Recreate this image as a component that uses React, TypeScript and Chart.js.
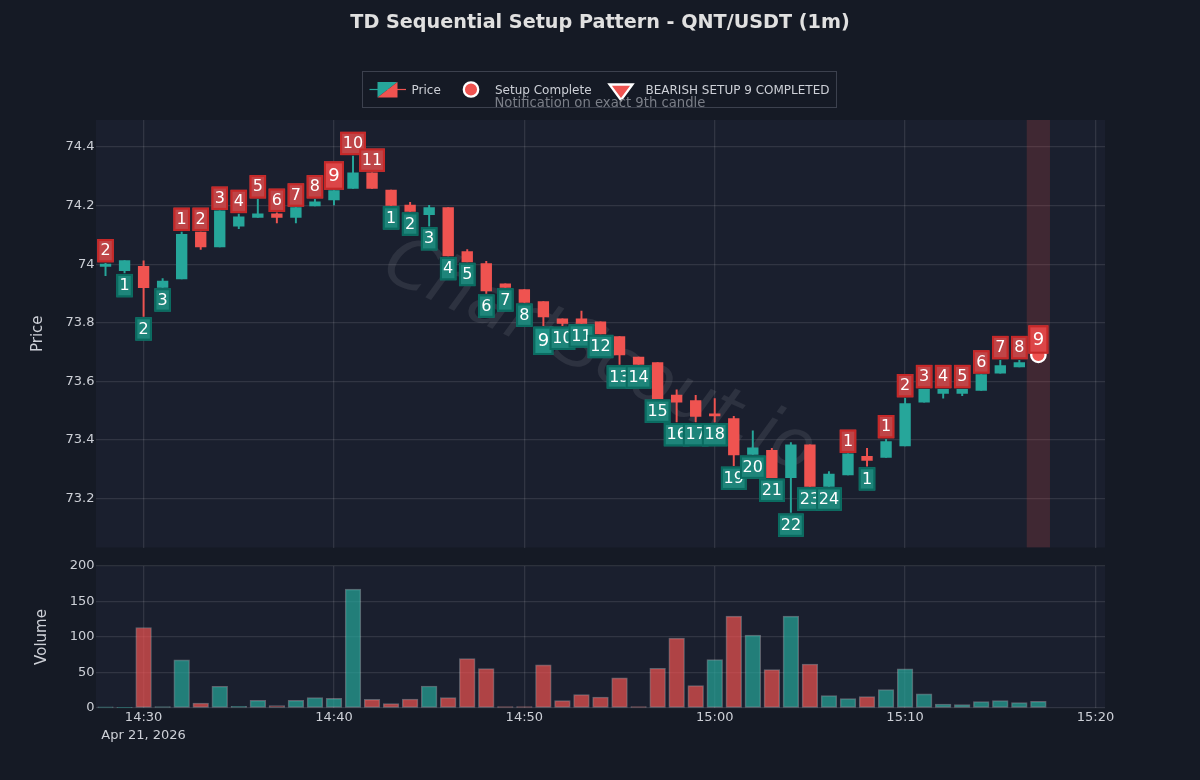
import { useEffect, useRef } from "react";
import { Chart, registerables } from "chart.js";
import type { Plugin } from "chart.js";

Chart.register(...registerables);

const FONT = '"DejaVu Sans", sans-serif';
const GREEN = "#26a69a";
const RED = "#ef5350";
const PAGE_BG = "#151a25";
const PANE_BG = "#1a1f2e";
const GRID = "rgba(255,255,255,0.1)";
const GRID_WIDTH = 1.3;
const TEXT = "#cdd0d7";

// minute of the day of the first candle (14:28), one candle per minute
const firstMinute = 868;

const opens = [
  73.992, 73.978, 73.993, 73.921, 73.95, 74.11, 74.059, 74.13, 74.16, 74.172,
  74.16, 74.199, 74.219, 74.259, 74.312, 74.253, 74.202, 74.169, 74.193, 74.043,
  74.002, 73.933, 73.913, 73.872, 73.813, 73.813, 73.803, 73.753, 73.683, 73.664,
  73.553, 73.534, 73.482, 73.473, 73.35, 73.364, 73.271, 73.383, 73.241, 73.28,
  73.344, 73.34, 73.379, 73.529, 73.559, 73.559, 73.569, 73.628, 73.649, 73.68,
];
const closes = [
  74.0, 74.012, 73.92, 73.942, 74.102, 74.059, 74.182, 74.162, 74.172, 74.16,
  74.193, 74.213, 74.251, 74.312, 74.259, 74.201, 74.18, 74.193, 74.028, 74.008,
  73.909, 73.921, 73.869, 73.82, 73.798, 73.798, 73.762, 73.69, 73.658, 73.541,
  73.529, 73.48, 73.482, 73.349, 73.373, 73.271, 73.383, 73.241, 73.283, 73.352,
  73.33, 73.394, 73.524, 73.573, 73.573, 73.573, 73.623, 73.654, 73.664, 73.688,
];
const highs = [
  74.003, 74.012, 74.011, 73.951, 74.11, 74.11, 74.182, 74.171, 74.221, 74.175,
  74.193, 74.221, 74.251, 74.369, 74.312, 74.253, 74.211, 74.201, 74.193, 74.05,
  74.01, 73.933, 73.913, 73.872, 73.813, 73.84, 73.803, 73.753, 73.683, 73.664,
  73.571, 73.552, 73.541, 73.48, 73.431, 73.371, 73.391, 73.383, 73.292, 73.352,
  73.371, 73.402, 73.542, 73.573, 73.573, 73.573, 73.623, 73.672, 73.672, 73.691,
];
const lows = [
  73.961, 73.97, 73.822, 73.921, 73.95, 74.05, 74.059, 74.121, 74.16, 74.141,
  74.141, 74.199, 74.202, 74.259, 74.259, 74.201, 74.18, 74.13, 74.028, 74.008,
  73.9, 73.921, 73.869, 73.79, 73.79, 73.798, 73.762, 73.658, 73.658, 73.541,
  73.461, 73.461, 73.461, 73.312, 73.35, 73.271, 73.152, 73.241, 73.241, 73.28,
  73.31, 73.34, 73.379, 73.529, 73.542, 73.551, 73.569, 73.628, 73.649, 73.678,
];
const volumes = [
  1.5, 1, 113.4, 2, 67.8, 7, 30.6, 2.4, 10.8, 3.3,
  10.8, 14.6, 13.6, 167.5, 12.2, 6.1, 12.7, 31, 14.6, 69.6,
  55.5, 1.9, 1.9, 60.7, 10.4, 18.8, 15.5, 42.4, 1.9, 56,
  98.4, 31.5, 68.2, 129.4, 102.6, 54, 129.4, 62, 17.4, 13.2,
  16, 25.9, 55, 19.8, 5.6, 4.7, 8.9, 10.4, 7.5, 9.4,
];
const tdCounts = [
  2, 1, 2, 3, 1, 2, 3, 4, 5, 6,
  7, 8, 9, 10, 11, 1, 2, 3, 4, 5,
  6, 7, 8, 9, 10, 11, 12, 13, 14, 15,
  16, 17, 18, 19, 20, 21, 22, 23, 24, 1,
  1, 1, 2, 3, 4, 5, 6, 7, 8, 9,
];
// true: count sits above the high (sell setup), false: below the low
const tdAbove = [
  true, false, false, false, true, true, true, true, true, true,
  true, true, true, true, true, false, false, false, false, false,
  false, false, false, false, false, false, false, false, false, false,
  false, false, false, false, false, false, false, false, false, true,
  false, true, true, true, true, true, true, true, true, true,
];
const setupIndex = 49;
const setupPrice = 73.69;

const minutes = opens.map((_, i) => firstMinute + i);

const xMin = 867.5;
const xMax = 920.5;
const priceMin = 73.0325;
const priceMax = 74.4923;
const TITLE = "TD Sequential Setup Pattern - QNT/USDT (1m)";

function clock(v: number) {
  const h = Math.floor(v / 60);
  const m = v % 60;
  return `${h}:${m < 10 ? "0" : ""}${m}`;
}

const paneBackground: Plugin = {
  id: "paneBackground",
  beforeDraw(chart) {
    const { ctx, chartArea: a } = chart;
    ctx.save();
    ctx.fillStyle = PANE_BG;
    ctx.fillRect(a.left, a.top, a.right - a.left, a.bottom - a.top);
    ctx.restore();
  },
};

const watermark: Plugin = {
  id: "watermark",
  beforeDatasetsDraw(chart) {
    const { ctx } = chart;
    ctx.save();
    ctx.translate(599, 358.5);
    ctx.rotate((25 * Math.PI) / 180);
    ctx.font = `italic 69px ${FONT}`;
    ctx.fillStyle = "rgba(255,255,255,0.085)";
    ctx.textAlign = "center";
    ctx.textBaseline = "middle";
    ctx.fillText("ChartScout.io", 0, 0);
    ctx.restore();
  },
};

const tdLabels: Plugin = {
  id: "tdLabels",
  afterDatasetsDraw(chart) {
    const { ctx, scales } = chart;
    ctx.save();
    ctx.textAlign = "center";
    ctx.textBaseline = "middle";
    tdCounts.forEach((count, i) => {
      const big = count === 9;
      const w = big ? 20 : count > 9 ? 25.7 : 16.5;
      const h = big ? 28.3 : 23.3;
      const x = scales.x.getPixelForValue(minutes[i]);
      const top = tdAbove[i]
        ? scales.y.getPixelForValue(highs[i]) - 1 - h
        : scales.y.getPixelForValue(lows[i]) + 1;
      ctx.fillStyle = tdAbove[i] ? (big ? "#dc4648" : "#bf4548") : big ? "#1f9084" : "#1e857a";
      ctx.strokeStyle = tdAbove[i] ? "#c62828" : "#0a6b60";
      ctx.lineWidth = 2;
      ctx.fillRect(x - w / 2, top, w, h);
      ctx.strokeRect(x - w / 2 + 1, top + 1, w - 2, h - 2);
      ctx.fillStyle = "#ffffff";
      ctx.font = `${big ? 18 : 16}px ${FONT}`;
      ctx.fillText(String(count), x, top + h / 2 + 0.5);
    });
    ctx.restore();
  },
};

const headerBox: Plugin = {
  id: "headerBox",
  afterDraw(chart) {
    const { ctx } = chart;
    ctx.save();
    ctx.font = `bold 19.2px ${FONT}`;
    ctx.fillStyle = "#e0e0e0";
    ctx.textAlign = "center";
    ctx.textBaseline = "middle";
    ctx.fillText(TITLE, 600, 23);
    ctx.textAlign = "left";

    ctx.strokeStyle = "#3c414e";
    ctx.lineWidth = 1;
    ctx.strokeRect(362.5, 71.5, 474, 36);

    // candle swatch, split along the diagonal
    ctx.lineWidth = 1.2;
    ctx.strokeStyle = GREEN;
    ctx.beginPath();
    ctx.moveTo(369.5, 89.5);
    ctx.lineTo(388, 89.5);
    ctx.stroke();
    ctx.strokeStyle = RED;
    ctx.beginPath();
    ctx.moveTo(388, 89.5);
    ctx.lineTo(406, 89.5);
    ctx.stroke();
    ctx.fillStyle = GREEN;
    ctx.beginPath();
    ctx.moveTo(377.5, 82);
    ctx.lineTo(397.5, 82);
    ctx.lineTo(377.5, 97.5);
    ctx.closePath();
    ctx.fill();
    ctx.fillStyle = RED;
    ctx.beginPath();
    ctx.moveTo(397.5, 82);
    ctx.lineTo(397.5, 97.5);
    ctx.lineTo(377.5, 97.5);
    ctx.closePath();
    ctx.fill();

    // setup complete marker
    ctx.fillStyle = RED;
    ctx.strokeStyle = "#ffffff";
    ctx.lineWidth = 2.3;
    ctx.beginPath();
    ctx.arc(471, 89.5, 7.2, 0, Math.PI * 2);
    ctx.fill();
    ctx.stroke();

    // triangle marker
    ctx.beginPath();
    ctx.moveTo(609.5, 84.5);
    ctx.lineTo(632.5, 84.5);
    ctx.lineTo(621, 100);
    ctx.closePath();
    ctx.fill();
    ctx.stroke();

    ctx.font = `12px ${FONT}`;
    ctx.fillStyle = TEXT;
    ctx.textBaseline = "middle";
    ctx.fillText("Price", 411.5, 91);
    ctx.fillText("Setup Complete", 495, 91);
    ctx.fillText("BEARISH SETUP 9 COMPLETED", 645.5, 91);
    ctx.font = `13.2px ${FONT}`;
    ctx.fillStyle = "#7b7f88";
    ctx.fillText("Notification on exact 9th candle", 494.5, 104);
    ctx.restore();
  },
};

export default function App() {
  const priceRef = useRef<HTMLCanvasElement | null>(null);
  const volumeRef = useRef<HTMLCanvasElement | null>(null);

  useEffect(() => {
    if (!priceRef.current || !volumeRef.current) return;

    const candleColors = minutes.map((_, i) => (closes[i] > opens[i] ? GREEN : RED));
    const volumeColors = minutes.map((_, i) =>
      closes[i] >= opens[i] ? "rgba(38,166,154,0.7)" : "rgba(239,83,80,0.7)"
    );

    const priceChart = new Chart(priceRef.current, {
      type: "bar",
      data: {
        datasets: [
          {
            type: "line",
            label: "Setup Complete",
            data: [{ x: minutes[setupIndex], y: setupPrice }],
            showLine: false,
            pointRadius: 7.2,
            pointBackgroundColor: RED,
            pointBorderColor: "#ffffff",
            pointBorderWidth: 2.3,
            order: 0,
          },
          {
            label: "Body",
            data: minutes.map((m, i) => ({ x: m, y: [opens[i], closes[i]] })),
            backgroundColor: candleColors,
            barThickness: 10.7,
            minBarLength: 2,
            grouped: false,
            order: 1,
          },
          {
            label: "Wick",
            data: minutes.map((m, i) => ({ x: m, y: [lows[i], highs[i]] })),
            backgroundColor: candleColors,
            barThickness: 1.3,
            grouped: false,
            order: 2,
          },
          {
            label: "Setup band",
            data: [{ x: minutes[setupIndex], y: [priceMin, priceMax] }],
            backgroundColor: "rgba(239,83,80,0.18)",
            barThickness: 22.6,
            grouped: false,
            order: 3,
          },
        ],
      } as any,
      options: {
        responsive: false,
        animation: false,
        layout: { padding: { left: 0, right: 95, top: 120, bottom: 0 } },
        plugins: {
          legend: { display: false },
          tooltip: { enabled: false },
        },
        scales: {
          x: {
            type: "linear",
            offset: false,
            min: xMin,
            max: xMax,
            grid: { color: GRID, lineWidth: GRID_WIDTH, drawTicks: false, offset: false },
            border: { display: false },
            ticks: { display: false, stepSize: 10, includeBounds: false },
            afterFit(scale) {
              scale.height = 0;
            },
          },
          y: {
            min: priceMin,
            max: priceMax,
            grid: { color: GRID, lineWidth: GRID_WIDTH, drawTicks: false },
            border: { display: false },
            title: {
              display: true,
              text: "Price",
              color: TEXT,
              font: { family: FONT, size: 15 },
              padding: { top: 29, bottom: 0 },
            },
            ticks: {
              stepSize: 0.2,
              includeBounds: false,
              color: TEXT,
              font: { family: FONT, size: 13 },
              padding: 1.5,
              callback: (v) => String(Number(Number(v).toFixed(1))),
            },
            afterFit(scale) {
              scale.width = 96;
            },
          },
        },
      },
      plugins: [paneBackground, watermark, tdLabels, headerBox],
    });

    const volumeChart = new Chart(volumeRef.current, {
      type: "bar",
      data: {
        datasets: [
          {
            label: "Volume",
            data: minutes.map((m, i) => ({ x: m, y: volumes[i] })),
            backgroundColor: volumeColors,
            borderColor: "rgba(255,255,255,0.3)",
            borderWidth: 1,
            borderSkipped: false,
            barThickness: 15.7,
          },
        ],
      },
      options: {
        responsive: false,
        animation: false,
        layout: { padding: { left: 0, right: 95, top: 11, bottom: 0 } },
        plugins: {
          legend: { display: false },
          tooltip: { enabled: false },
        },
        scales: {
          x: {
            type: "linear",
            offset: false,
            min: xMin,
            max: xMax,
            grid: { color: GRID, lineWidth: GRID_WIDTH, drawTicks: false, offset: false },
            border: { display: false },
            ticks: {
              stepSize: 10,
              includeBounds: false,
              maxRotation: 0,
              autoSkip: false,
              color: TEXT,
              padding: 1,
              font: { family: FONT, size: 13, lineHeight: 1.385 },
              callback: (v) => {
                const label = clock(Number(v));
                return Number(v) === 870 ? [label, "Apr 21, 2026"] : label;
              },
            },
            afterFit(scale) {
              scale.height = 72;
            },
          },
          y: {
            min: 0,
            max: 200,
            grid: { color: GRID, lineWidth: GRID_WIDTH, drawTicks: false },
            border: { display: false },
            title: {
              display: true,
              text: "Volume",
              color: TEXT,
              font: { family: FONT, size: 15 },
              padding: { top: 33, bottom: 0 },
            },
            ticks: {
              stepSize: 50,
              color: TEXT,
              font: { family: FONT, size: 13 },
              padding: 1.5,
            },
            afterFit(scale) {
              scale.width = 96;
            },
          },
        },
      },
      plugins: [paneBackground],
    });

    return () => {
      priceChart.destroy();
      volumeChart.destroy();
    };
  }, []);

  return (
    <div style={{ position: "fixed", left: 0, top: 0, width: 1200, height: 780, background: PAGE_BG }}>
      <canvas ref={priceRef} width={1200} height={557} style={{ position: "absolute", left: 0, top: 0 }} />
      <canvas ref={volumeRef} width={1200} height={225} style={{ position: "absolute", left: 0, top: 555 }} />
    </div>
  );
}
